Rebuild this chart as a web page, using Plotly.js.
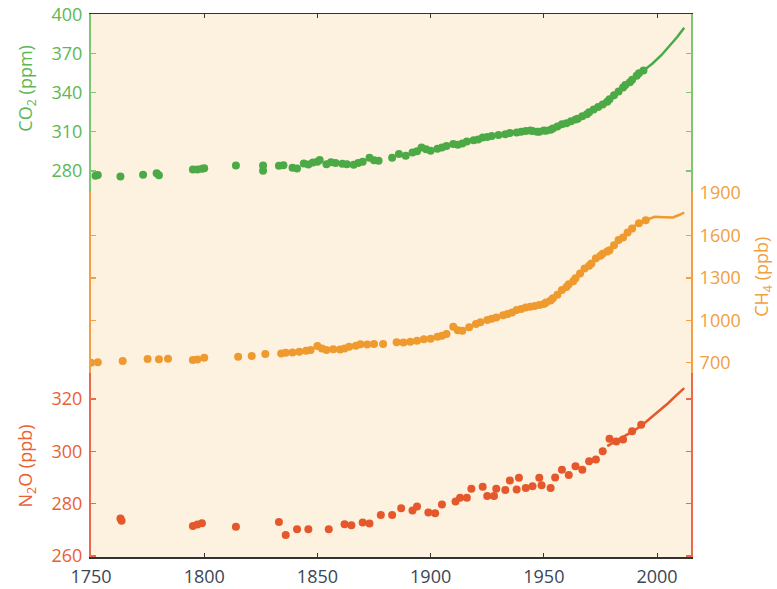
<!DOCTYPE html>
<html>
<head>
<meta charset="utf-8">
<script src="https://cdn.plot.ly/plotly-3.0.1.min.js"></script>
<style>html,body{margin:0;padding:0;background:#fff;}#chart{width:777px;height:589px;}</style>
</head>
<body>
<div id="chart"></div>
<script>
// CO2 (ppm) – ice core / firn dots
const co2Years = [1752,1753,1763,1773,1779,1780,1795,1797,1799,1800,1814,1826,1826,1833,1835,1839,1841,1844,1846,1848,1850,1851,1854,1856,1858,1861,1863,1866,1868,1870,1873,1875,1877,1883,1886,1889,1892,1894,1896,1898,1900,1903,1905,1907,1910,1912,1914,1916,1919,1921,1923,1925,1927,1930,1933,1935,1938,1940,1942,1944,1945,1947,1948,1950,1951,1953,1954,1956,1958,1960,1962,1964,1965,1967,1969,1970,1972,1974,1976,1978,1979,1981,1983,1985,1986,1988,1989,1991,1992,1994];
const co2Values = [276.2,276.8,275.6,277,278,276.5,281,281,281.5,282,284,284,280,283.8,284.2,282.3,281.8,285.6,284.8,286.4,287,288.2,285,286.5,286,285.4,285,284.6,286,287,290,288,287.7,290,292.8,291.5,294,295,297.9,296.5,295.3,297,297.9,299,300.5,300,301,302.5,303.5,304,305.5,306,306.8,307.5,308,309,309.4,310,310.6,311,310.5,310,309.9,311,310.8,311.5,312.4,314,315.8,316.5,318,319.5,320,322,323.5,325,327,329,331,333,335,338,341,344,346,348,350,353,355,357];
// CO2 instrumental line
const co2LineYears = [1958,1962,1966,1970,1974,1978,1982,1986,1990,1994,1998,2002,2006,2009,2012];
const co2LineValues = [315.5,318.4,321.4,325.5,330,335,340.5,346,352,357.5,362.5,369,377,383,390];

// CH4 (ppb)
const ch4Years = [1750,1753,1764,1775,1780,1784,1795,1797,1800,1815,1821,1827,1834,1836,1839,1842,1845,1847,1850,1852,1854,1857,1860,1862,1864,1867,1869,1872,1875,1879,1885,1888,1891,1894,1897,1900,1903,1905,1907,1910,1912,1914,1917,1920,1922,1925,1927,1929,1932,1934,1936,1938,1940,1942,1944,1946,1948,1950,1951,1953,1954,1956,1958,1960,1961,1963,1964,1966,1968,1970,1971,1973,1975,1976,1978,1979,1981,1983,1985,1987,1989,1992,1995];
const ch4Values = [700,703,712,726,724,728,719,722,735,742,747,761,766,770,773,778,785,790,818,800,790,795,794,800,813,820,830,828,832,832,844,842,848,855,865,870,883,890,902,954,930,926,950,973,985,1001,1010,1020,1035,1044,1055,1072,1080,1090,1095,1100,1107,1115,1125,1140,1155,1180,1213,1235,1255,1275,1296,1330,1366,1385,1400,1437,1455,1470,1485,1495,1530,1566,1585,1620,1648,1685,1707];
const ch4LineYears = [1984,1988,1992,1996,1999,2003,2007,2010,2012];
const ch4LineValues = [1580,1640,1690,1715,1731,1728,1726,1745,1761];

// N2O (ppb)
const n2oYears = [1763,1763.5,1795,1797,1799,1814,1833,1836,1841,1846,1855,1862,1865,1870,1873,1878,1883,1887,1892,1894,1899,1902,1905,1911,1913,1916,1918,1923,1925,1928,1929,1933,1935,1938,1939,1942,1945,1948,1949,1953,1955,1958,1961,1964,1967,1970,1973,1976,1979,1982,1985,1989,1993];
const n2oValues = [274.3,273.5,271.5,272,272.5,271.2,273,268,270.2,270.2,270.2,272.1,271.7,272.8,272.4,275.7,275.7,278.2,277.4,278.9,276.6,276.3,279.7,280.8,282.3,282.3,285.7,286.5,282.9,282.9,285.7,285.2,288.9,285.4,289.9,286,286.7,289.9,287,286,290,293,291,294.3,293,296.2,296.9,300,304.8,303.8,304.5,307.7,310.2];
const n2oLineYears = [1978,1982,1986,1990,1994,1998,2002,2005,2008,2012];
const n2oLineValues = [302,304,306,308,310.5,313.4,316,318.5,321,324.2];

const xTicks = [1750,1800,1850,1900,1950,2000];
const co2Ticks = [280,310,340,370,400];
const ch4Ticks = [700,1000,1300,1600,1900];
const n2oTicks = [260,280,300,320];

const green = '#4caa46', orange = '#ef9a2e', red = '#e5582b';
const greenAxis = '#7cc774', orangeAxis = '#f1a043', redAxis = '#ea6b4c';
const font = 'Open Sans, Noto Sans, sans-serif';

const traces = [
  {x: co2Years, y: co2Values, yaxis: 'y3', mode: 'markers', marker: {color: green, size: 8}, hoverinfo: 'skip'},
  {x: co2LineYears, y: co2LineValues, yaxis: 'y3', mode: 'lines', line: {color: green, width: 2.5}, hoverinfo: 'skip'},
  {x: ch4Years, y: ch4Values, yaxis: 'y2', mode: 'markers', marker: {color: orange, size: 8}, hoverinfo: 'skip'},
  {x: ch4LineYears, y: ch4LineValues, yaxis: 'y2', mode: 'lines', line: {color: orange, width: 2.5}, hoverinfo: 'skip'},
  {x: n2oYears, y: n2oValues, yaxis: 'y', mode: 'markers', marker: {color: red, size: 8}, hoverinfo: 'skip'},
  {x: n2oLineYears, y: n2oLineValues, yaxis: 'y', mode: 'lines', line: {color: red, width: 2.5}, hoverinfo: 'skip'},
  // carrier for the top frame axis
  {x: [], y: [], xaxis: 'x2', yaxis: 'y3', mode: 'markers', hoverinfo: 'skip'}
];

function yAx(domain, range, ticks, side, lineCol, textCol) {
  return {
    domain: domain, range: range, tickvals: ticks, side: side, anchor: 'x',
    showline: true, linecolor: lineCol, linewidth: 2, mirror: 'ticks',
    ticks: 'inside', ticklen: 5, tickwidth: 1.5, tickcolor: lineCol,
    showgrid: false, zeroline: false, ticklabelstandoff: 3,
    tickfont: {family: font, size: 18, color: textCol}
  };
}

const layout = {
  width: 777, height: 589,
  margin: {l: 91, r: 86, t: 14, b: 32},
  paper_bgcolor: '#ffffff', plot_bgcolor: '#fdf1df',
  showlegend: false,
  xaxis: {
    range: [1750, 2015], tickvals: xTicks, anchor: 'y', showline: true, linecolor: '#333', linewidth: 1.5,
    mirror: false, ticks: 'inside', ticklen: 4, tickcolor: '#333', showgrid: false, zeroline: false,
    tickfont: {family: font, size: 18, color: '#3b4656'}, ticklabelstandoff: 3
  },
  xaxis2: {
    range: [1750, 2015], tickvals: xTicks, anchor: 'y3', overlaying: 'x', side: 'top',
    showline: true, linecolor: '#333', linewidth: 1.5, ticks: 'inside', ticklen: 4, tickcolor: '#333',
    showticklabels: false, showgrid: false, zeroline: false
  },
  yaxis: yAx([0, 0.339], [259.6, 330], n2oTicks, 'left', redAxis, '#ea5f33'),
  yaxis2: yAx([0.339, 0.672], [628, 1905], ch4Ticks, 'right', orangeAxis, '#f0a040'),
  yaxis3: yAx([0.672, 1], [263.6, 400.5], co2Ticks, 'left', greenAxis, '#5db854'),
  annotations: [
    {text: 'CO<sub>2</sub> (ppm)', xref: 'paper', yref: 'paper', x: -0.107, y: 0.864, textangle: -90, showarrow: false, xanchor: 'center', yanchor: 'middle', font: {family: font, size: 18, color: '#5db854'}},
    {text: 'CH<sub>4</sub> (ppb)', xref: 'paper', yref: 'paper', x: 1.12, y: 0.516, textangle: -90, showarrow: false, xanchor: 'center', yanchor: 'middle', font: {family: font, size: 18, color: '#f0a040'}},
    {text: 'N<sub>2</sub>O (ppb)', xref: 'paper', yref: 'paper', x: -0.107, y: 0.168, textangle: -90, showarrow: false, xanchor: 'center', yanchor: 'middle', font: {family: font, size: 18, color: '#ea5f33'}}
  ]
};

Plotly.newPlot('chart', traces, layout, {displayModeBar: false, staticPlot: true});
</script>
</body>
</html>
